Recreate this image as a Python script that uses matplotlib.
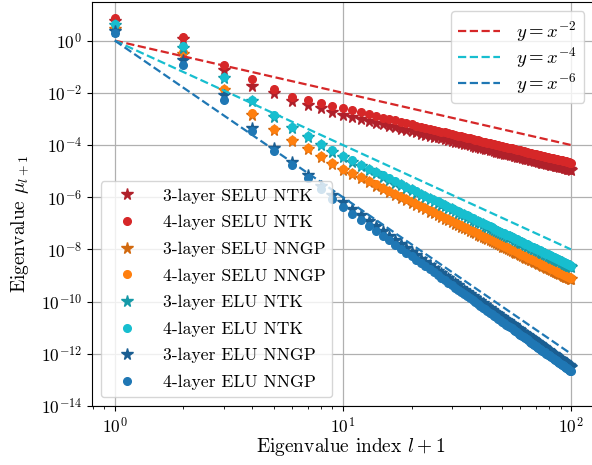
import matplotlib
matplotlib.use("Agg")
import matplotlib.pyplot as plt
import numpy as np

plt.rcParams['font.family'] = 'serif'
plt.rcParams['font.serif'] = ['cmr10', 'DejaVu Serif']
plt.rcParams['mathtext.fontset'] = 'cm'
plt.rcParams['axes.unicode_minus'] = True
plt.rcParams['axes.formatter.use_mathtext'] = True

# eigenvalue index l+1
idx = np.arange(1, 101)

# log10 of eigenvalues
selu_ntk_3 = [0.75, 0.07, -1.12, -1.73, -2.01, -2.30, -2.46, -2.60, -2.73, -2.84,
              -2.93, -3.01, -3.08, -3.15, -3.21, -3.27, -3.32, -3.38, -3.43, -3.47,
              -3.52, -3.56, -3.60, -3.64, -3.68, -3.71, -3.75, -3.78, -3.81, -3.84,
              -3.87, -3.90, -3.93, -3.96, -3.98, -4.01, -4.03, -4.06, -4.08, -4.10,
              -4.13, -4.15, -4.17, -4.19, -4.21, -4.23, -4.25, -4.27, -4.29, -4.31,
              -4.33, -4.34, -4.36, -4.38, -4.39, -4.41, -4.43, -4.44, -4.46, -4.47,
              -4.49, -4.50, -4.52, -4.53, -4.55, -4.56, -4.58, -4.59, -4.60, -4.62,
              -4.63, -4.64, -4.65, -4.67, -4.68, -4.69, -4.70, -4.71, -4.73, -4.74,
              -4.75, -4.76, -4.77, -4.78, -4.79, -4.80, -4.81, -4.82, -4.83, -4.84,
              -4.85, -4.86, -4.87, -4.88, -4.89, -4.90, -4.91, -4.92, -4.93, -4.94]
selu_ntk_4 = [0.85, 0.15, -0.92, -1.47, -1.85, -2.15, -2.29, -2.40, -2.50, -2.58,
              -2.67, -2.75, -2.82, -2.89, -2.95, -3.01, -3.06, -3.12, -3.17, -3.21,
              -3.26, -3.30, -3.34, -3.38, -3.42, -3.45, -3.49, -3.52, -3.55, -3.58,
              -3.61, -3.64, -3.67, -3.70, -3.72, -3.75, -3.77, -3.80, -3.82, -3.84,
              -3.87, -3.89, -3.91, -3.93, -3.95, -3.97, -3.99, -4.01, -4.03, -4.05,
              -4.07, -4.08, -4.10, -4.12, -4.13, -4.15, -4.17, -4.18, -4.20, -4.21,
              -4.23, -4.24, -4.26, -4.27, -4.29, -4.30, -4.32, -4.33, -4.34, -4.36,
              -4.37, -4.38, -4.39, -4.41, -4.42, -4.43, -4.44, -4.45, -4.47, -4.48,
              -4.49, -4.50, -4.51, -4.52, -4.53, -4.54, -4.55, -4.56, -4.57, -4.58,
              -4.59, -4.60, -4.61, -4.62, -4.63, -4.64, -4.65, -4.66, -4.67, -4.68]
selu_nngp_3 = [0.45, -0.50, -1.90, -2.84, -3.44, -3.84, -4.16, -4.47, -4.72, -4.95,
               -5.12, -5.28, -5.43, -5.56, -5.69, -5.81, -5.92, -6.02, -6.12, -6.21,
               -6.30, -6.39, -6.47, -6.55, -6.62, -6.69, -6.76, -6.83, -6.89, -6.95,
               -7.01, -7.07, -7.13, -7.18, -7.23, -7.29, -7.34, -7.39, -7.43, -7.48,
               -7.52, -7.57, -7.61, -7.65, -7.69, -7.73, -7.77, -7.81, -7.85, -7.89,
               -7.92, -7.96, -7.99, -8.02, -8.06, -8.09, -8.13, -8.15, -8.19, -8.22,
               -8.25, -8.28, -8.31, -8.34, -8.36, -8.39, -8.42, -8.45, -8.47, -8.50,
               -8.52, -8.55, -8.57, -8.60, -8.63, -8.65, -8.67, -8.70, -8.72, -8.74,
               -8.76, -8.79, -8.81, -8.83, -8.85, -8.87, -8.90, -8.91, -8.94, -8.96,
               -8.98, -9.00, -9.02, -9.04, -9.06, -9.07, -9.10, -9.11, -9.13, -9.15]
selu_nngp_4 = [0.50, -0.45, -1.86, -2.79, -3.39, -3.79, -4.11, -4.42, -4.67, -4.90,
               -5.07, -5.23, -5.38, -5.51, -5.64, -5.76, -5.87, -5.97, -6.07, -6.16,
               -6.25, -6.34, -6.42, -6.50, -6.57, -6.64, -6.71, -6.78, -6.84, -6.90,
               -6.96, -7.02, -7.08, -7.13, -7.18, -7.24, -7.29, -7.34, -7.38, -7.43,
               -7.47, -7.52, -7.56, -7.60, -7.64, -7.68, -7.72, -7.76, -7.80, -7.84,
               -7.87, -7.91, -7.94, -7.97, -8.01, -8.04, -8.08, -8.10, -8.14, -8.17,
               -8.20, -8.23, -8.26, -8.29, -8.31, -8.34, -8.37, -8.40, -8.42, -8.45,
               -8.47, -8.50, -8.52, -8.55, -8.58, -8.60, -8.62, -8.65, -8.67, -8.69,
               -8.71, -8.74, -8.76, -8.78, -8.80, -8.82, -8.85, -8.86, -8.89, -8.91,
               -8.93, -8.95, -8.97, -8.99, -9.01, -9.02, -9.05, -9.06, -9.08, -9.10]
elu_ntk_3 = [0.60, -0.28, -1.43, -2.33, -2.91, -3.36, -3.71, -4.00, -4.25, -4.47,
             -4.64, -4.80, -4.95, -5.08, -5.21, -5.33, -5.44, -5.54, -5.64, -5.73,
             -5.82, -5.91, -5.99, -6.07, -6.14, -6.21, -6.28, -6.35, -6.41, -6.47,
             -6.53, -6.59, -6.65, -6.70, -6.75, -6.81, -6.86, -6.91, -6.95, -7.00,
             -7.04, -7.09, -7.13, -7.17, -7.21, -7.25, -7.29, -7.33, -7.37, -7.41,
             -7.44, -7.48, -7.51, -7.54, -7.58, -7.61, -7.65, -7.67, -7.71, -7.74,
             -7.77, -7.80, -7.83, -7.86, -7.88, -7.91, -7.94, -7.97, -7.99, -8.02,
             -8.04, -8.07, -8.09, -8.12, -8.15, -8.17, -8.19, -8.22, -8.24, -8.26,
             -8.28, -8.31, -8.33, -8.35, -8.37, -8.39, -8.42, -8.43, -8.46, -8.48,
             -8.50, -8.52, -8.54, -8.56, -8.58, -8.59, -8.62, -8.63, -8.65, -8.67]
elu_ntk_4 = [0.62, -0.22, -1.38, -2.28, -2.86, -3.31, -3.66, -3.95, -4.20, -4.42,
             -4.59, -4.75, -4.90, -5.03, -5.16, -5.28, -5.39, -5.49, -5.59, -5.68,
             -5.77, -5.86, -5.94, -6.02, -6.09, -6.16, -6.23, -6.30, -6.36, -6.42,
             -6.48, -6.54, -6.60, -6.65, -6.70, -6.76, -6.81, -6.86, -6.90, -6.95,
             -6.99, -7.04, -7.08, -7.12, -7.16, -7.20, -7.24, -7.28, -7.32, -7.36,
             -7.39, -7.43, -7.46, -7.49, -7.53, -7.56, -7.60, -7.62, -7.66, -7.69,
             -7.72, -7.75, -7.78, -7.81, -7.83, -7.86, -7.89, -7.92, -7.94, -7.97,
             -7.99, -8.02, -8.04, -8.07, -8.10, -8.12, -8.14, -8.17, -8.19, -8.21,
             -8.23, -8.26, -8.28, -8.30, -8.32, -8.34, -8.37, -8.38, -8.41, -8.43,
             -8.45, -8.47, -8.49, -8.51, -8.53, -8.54, -8.57, -8.58, -8.60, -8.62]
elu_nngp_3 = [0.35, -0.75, -2.10, -3.33, -4.12, -4.66, -5.15, -5.56, -5.90, -6.20,
              -6.46, -6.70, -6.92, -7.12, -7.31, -7.48, -7.65, -7.81, -7.96, -8.10,
              -8.23, -8.35, -8.48, -8.59, -8.71, -8.82, -8.92, -9.02, -9.11, -9.21,
              -9.29, -9.38, -9.47, -9.55, -9.63, -9.70, -9.78, -9.85, -9.92, -9.99,
              -10.06, -10.12, -10.19, -10.25, -10.31, -10.38, -10.43, -10.49, -10.55, -10.60,
              -10.66, -10.71, -10.76, -10.81, -10.86, -10.91, -10.96, -11.01, -11.06, -11.10,
              -11.15, -11.19, -11.23, -11.28, -11.32, -11.37, -11.41, -11.45, -11.49, -11.53,
              -11.56, -11.60, -11.64, -11.68, -11.71, -11.75, -11.78, -11.82, -11.86, -11.89,
              -11.92, -11.96, -11.99, -12.02, -12.05, -12.08, -12.12, -12.15, -12.18, -12.21,
              -12.24, -12.27, -12.30, -12.33, -12.36, -12.39, -12.42, -12.44, -12.48, -12.50]
elu_nngp_4 = [0.28, -0.95, -2.28, -3.45, -4.22, -4.78, -5.28, -5.70, -6.05, -6.37,
              -6.63, -6.87, -7.09, -7.29, -7.48, -7.65, -7.82, -7.98, -8.13, -8.27,
              -8.40, -8.52, -8.65, -8.76, -8.88, -8.99, -9.09, -9.19, -9.28, -9.38,
              -9.46, -9.55, -9.64, -9.72, -9.80, -9.87, -9.95, -10.02, -10.09, -10.16,
              -10.23, -10.29, -10.36, -10.42, -10.48, -10.55, -10.60, -10.66, -10.72, -10.77,
              -10.83, -10.88, -10.93, -10.98, -11.03, -11.08, -11.13, -11.18, -11.23, -11.27,
              -11.32, -11.36, -11.40, -11.45, -11.49, -11.54, -11.58, -11.62, -11.66, -11.70,
              -11.73, -11.77, -11.81, -11.85, -11.88, -11.92, -11.95, -11.99, -12.03, -12.06,
              -12.09, -12.13, -12.16, -12.19, -12.22, -12.25, -12.29, -12.32, -12.35, -12.38,
              -12.41, -12.44, -12.47, -12.50, -12.53, -12.56, -12.59, -12.61, -12.65, -12.67]

labels = ["3-layer SELU NTK", "4-layer SELU NTK", "3-layer SELU NNGP", "4-layer SELU NNGP",
          "3-layer ELU NTK", "4-layer ELU NTK", "3-layer ELU NNGP", "4-layer ELU NNGP"]
series = [selu_ntk_3, selu_ntk_4, selu_nngp_3, selu_nngp_4,
          elu_ntk_3, elu_ntk_4, elu_nngp_3, elu_nngp_4]
colors = ["#b0202a", "#d62728", "#d2690e", "#ff7f0e",
          "#1599a7", "#17becf", "#1a5e92", "#1f77b4"]
markers = ["*", "o"] * 4

# reference power laws y = x^-p
ref_powers = [2, 4, 6]
ref_colors = ["#d62728", "#17becf", "#1f77b4"]

fig = plt.figure(figsize=(5.92, 4.65), dpi=100)
ax = fig.add_axes([92/592, 1 - 406/465, 501.8/592, 404/465])

handles = []
for vals, lab, col, mk in zip(series, labels, colors, markers):
    ms = 8.5 if mk == "*" else 5.5
    h, = ax.plot(idx, 10.0**np.array(vals), linestyle="", marker=mk, ms=ms,
                 color=col, label=lab)
    handles.append(h)

line_handles = []
for p, col in zip(ref_powers, ref_colors):
    h, = ax.plot(idx, idx.astype(float)**(-p), "--", color=col, lw=1.6,
                 label=f"$y = x^{{-{p}}}$")
    line_handles.append(h)

ax.set_xscale("log")
ax.set_yscale("log")
ax.set_xlim(10**-0.1, 10**2.1)
ax.set_ylim(1e-14, 10**1.48)
ax.spines['right'].set_visible(False)
ax.grid(True, which="major", color="#b0b0b0", lw=0.9)
ax.tick_params(labelsize=12.5)
ax.set_xlabel("Eigenvalue index $l+1$", fontsize=14)
ax.set_ylabel("Eigenvalue $\\mu_{l+1}$", fontsize=14)
ax.xaxis.set_label_coords(0.516, -0.075)
ax.yaxis.set_label_coords(-0.122, 0.45)

leg1 = ax.legend(handles=handles, loc="lower left", fontsize=12.7,
                 labelspacing=0.64, handlelength=2.2, handletextpad=0.9)
ax.add_artist(leg1)
ax.legend(handles=line_handles, loc="upper right", fontsize=13.5,
          labelspacing=0.05, handlelength=2.2, handletextpad=0.9)

fig.savefig("out.png", dpi=100)
